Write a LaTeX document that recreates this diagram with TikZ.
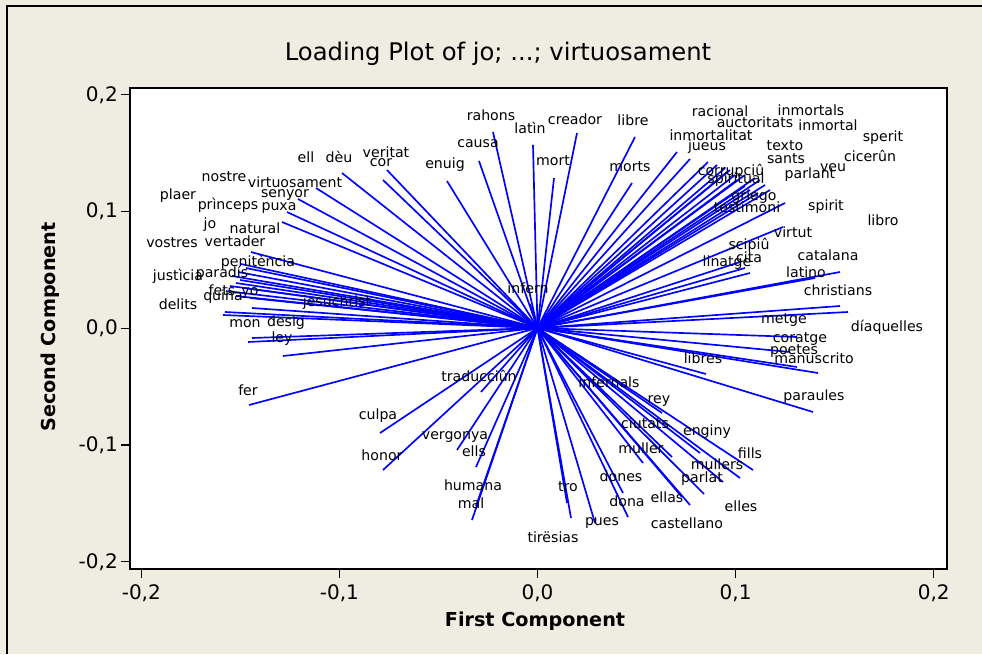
\documentclass[tikz,border=0pt]{standalone}
\usepackage{fontspec}
\setmainfont{DejaVu Sans}
\definecolor{bgc}{RGB}{239,236,226}
\definecolor{ldc}{RGB}{0,0,255}
\begin{document}
\begin{tikzpicture}[x=0.75pt,y=-0.75pt,
  lbl/.style={font=\fontsize{10.6}{12}\selectfont,inner sep=0pt,text=black},
  ld/.style={draw=ldc,line width=1.25pt},
  tick/.style={draw=black,line width=1pt},
  ticklbl/.style={font=\fontsize{15}{17}\selectfont,inner sep=0pt},
  axlbl/.style={font=\bfseries\fontsize{14.4}{17}\selectfont,inner sep=0pt},
  frame/.style={draw=black,line width=1.4pt}]
\useasboundingbox (0,0) rectangle (982,654);
\fill[bgc] (0,0) rectangle (982,654);
\draw[black,line width=1.3pt] (7,654) -- (7,6) -- (982,6);
\fill[white] (130,88) rectangle (947,569);
\coordinate (o) at (537.5,328);
% loading lines
\foreach \n/\x/\y in {
 ell/316/188, deu/342/173, veritat/387/170, cor/383/180,
 virtuosament/298/199, senyor/287/212, puxa/282/222, natural/251/252,
 vertader/241/264, penitencia/246/268, jo/238/272, vostres/232/276,
 plaer/240/280, princeps/236/283, justicia/230/286, paradis/244/288,
 nostre/226/291, fets/236/296, yo/250/298, quina/225/312, delits/223/315,
 jesuchrist/252/308, mon/248/342, desig/252/338, ley/283/356, fer/249/405,
 culpa/380/433, honor/383/470, traduccion/481/392, vergonya/457/450,
 ells/476/467, humana/476/506, mal/472/520,
 tro/567/503, tiresias/571/518, pues/595/523, dones/623/493, dona/628/517,
 muller/643/463, rey/662/413, ciutats/672/457, ellas/682/497,
 castellano/690/505, infernals/606/396, enginy/700/453, elles/740/478,
 mullers/723/482, parlat/704/494, fills/753/470,
 libres/706/374, paraules/813/412, manuscrito/818/373, poetes/797/367,
 coratge/790/352, metge/797/337, diaquelles/848/312, christians/840/306,
 latino/815/278, catalana/840/272, linatge/750/273, cita/745/268, scipiu/740/262,
 virtut/783/227, spirit/785/203, libro/758/193, testimoni/750/190, griego/745/186,
 spiritual/737/180, corrupciu/727/172, parlant/760/180, veu/755/178, sants/735/175,
 ciceron/765/185, texto/730/170, sperit/770/190, jueus/690/159, inmortalitat/677/152,
 auctoritats/717/165, inmortal/745/175, racional/708/162, inmortals/725/168,
 rahons/493/132, latin/533/145, creador/577/133, libre/635/137, causa/479/161,
 enuig/447/181, mort/554/178, morts/632/183, infern/530/304}
 {\coordinate (e-\n) at (\x,\y); \draw[ld] (o) -- (e-\n);}
% labels
\foreach \n/\t/\x/\y in {
 ell/ell/306/157, deu/dèu/339/157, veritat/veritat/386/152, cor/cor/381/163,
 nostre/nostre/224/177, virtuosament/virtuosament/295/182, plaer/plaer/178/196,
 princeps/prìnceps/228/205, senyor/senyor/285/195, puxa/puxa/279/208,
 jo/jo/210/225, natural/natural/255/228, vostres/vostres/172/243,
 vertader/vertader/235/241, penitencia/penitència/258/262, justicia/justìcia/178/276,
 paradis/paradís/222/273, fets/fets/222/290, yo/yo/250/293, quina/quina/223/297,
 delits/delits/178/304, jesuchrist/jesuchrist/337/303, mon/mon/245/324,
 desig/desig/286/323, ley/ley/282/339, fer/fer/248/390, culpa/culpa/378/416,
 honor/honor/382/455, traduccion/traducciûn/479/376, vergonya/vergonya/455/437,
 ells/ells/474/451, humana/humana/473/485, mal/mal/471/503, tro/tro/568/487,
 tiresias/tirësias/553/537, pues/pues/602/523, dones/dones/621/476, dona/dona/627/501,
 ellas/ellas/667/497, castellano/castellano/687/523, infernals/infernals/609/382,
 rey/rey/659/401, ciutats/ciutats/645/423, muller/muller/641/448, enginy/enginy/707/432,
 fills/fills/750/453, mullers/mullers/717/464, parlat/parlat/702/479, elles/elles/741/506,
 libres/libres/703/358, paraules/paraules/814/397, metge/metge/784/320,
 diaquelles/díaquelles/887/327, coratge/coratge/800/339, poetes/poetes/794/351,
 manuscrito/manuscrito/814/358, christians/christians/838/290, latino/latino/806/272,
 catalana/catalana/828/255, linatge/linatge/727/263, cita/cita/749/257,
 scipiu/scipiû/749/245, virtut/virtut/793/232, libro/libro/883/220, spirit/spirit/826/207,
 testimoni/testimoni/747/207, griego/griego/754/197, spiritual/spiritual/736/180,
 corrupciu/corrupciû/731/171, parlant/parlant/810/175, veu/veu/833/168,
 sants/sants/786/159, ciceron/cicerûn/870/156, texto/texto/785/146, sperit/sperit/883/138,
 jueus/jueus/707/147, inmortalitat/inmortalitat/711/135, auctoritats/auctoritats/755/122,
 inmortal/inmortal/828/125, racional/racional/720/111, inmortals/inmortals/811/110,
 rahons/rahons/491/115, latin/latìn/530/128, creador/creador/575/119, libre/libre/633/120,
 causa/causa/478/144, enuig/enuig/445/165, mort/mort/553/161, morts/morts/630/167,
 infern/infern/528/288}
 {\node[lbl] (l-\n) at (\x,\y) {\t};}
% frame
\draw[frame] (130,88) rectangle (947,569);
% x ticks
\foreach \v/\t in {-2/-0{,}2,-1/-0{,}1,0/0{,}0,1/0{,}1,2/0{,}2}
 {\coordinate (xt\v) at (537.5+198.1*\v,569);
  \draw[tick] (xt\v) -- ++(0,9);
  \node[ticklbl] (xl\v) at ([yshift=-24*0.75pt]xt\v) {\t};}
% y ticks
\foreach \v/\t in {2/0{,}2,1/0{,}1,0/0{,}0,-1/-0{,}1,-2/-0{,}2}
 {\coordinate (yt\v) at (130,328.3-116.75*\v);
  \draw[tick] (yt\v) -- ++(-9,0);
  \node[ticklbl,anchor=east] (yl\v) at ([xshift=-12*0.75pt]yt\v) {\t};}
\node[font=\fontsize{18.2}{21}\selectfont,inner sep=0pt] (title) at (498,54) {Loading Plot of jo; ...; virtuosament};
\node[axlbl] (xlab) at (535,621) {First Component};
\node[axlbl,rotate=90] (ylab) at (50,327) {Second Component};
\end{tikzpicture}
\end{document}
